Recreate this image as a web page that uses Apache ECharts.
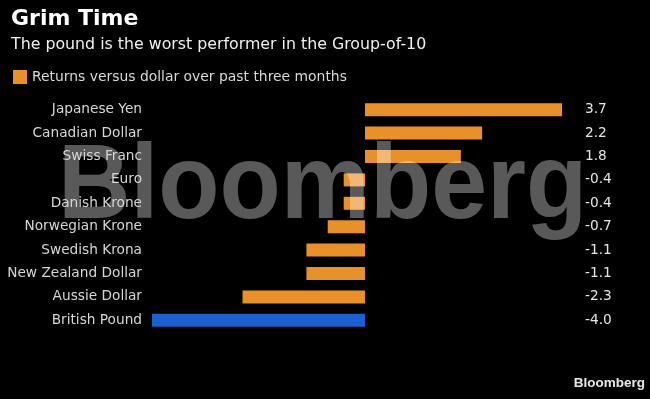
<!DOCTYPE html>
<html><head><meta charset="utf-8">
<script src="https://cdn.jsdelivr.net/npm/echarts@6/dist/echarts.min.js"></script>
<style>html,body{margin:0;padding:0;background:#000;}#c{width:650px;height:399px;}</style>
</head><body><div id="c"></div>
<script>
const categories = ["Japanese Yen","Canadian Dollar","Swiss Franc","Euro","Danish Krone","Norwegian Krone","Swedish Krona","New Zealand Dollar","Aussie Dollar","British Pound"];
const returns = [3.7, 2.2, 1.8, -0.4, -0.4, -0.7, -1.1, -1.1, -2.3, -4.0];
const highlight = "British Pound";
const seriesName = "Returns versus dollar over past three months";

const orange = "#e8912b", blue = "#1b5fd1";
const font = "DejaVu Sans";
const chart = echarts.init(document.getElementById('c'));
chart.setOption({
  backgroundColor: "#000",
  animation: false,
  title: [
    {text: "Grim Time", left: 6, top: 3, textStyle: {color: "#fff", fontFamily: font, fontWeight: "bold", fontSize: 22}},
    {text: "The pound is the worst performer in the Group-of-10", left: 6, top: 32, textStyle: {color: "#f0f0f0", fontFamily: font, fontWeight: "normal", fontSize: 15.8}}
  ],
  legend: {
    left: 8, top: 65, itemWidth: 14, itemHeight: 14, itemGap: 10,
    icon: "rect",
    textStyle: {color: "#d8d8d8", fontFamily: font, fontSize: 13.9, padding: [0,0,0,0]},
    data: [{name: seriesName, itemStyle: {color: orange}}]
  },
  grid: {left: 152, right: 88, top: 98, height: 234, containLabel: false},
  xAxis: {type: "value", min: -4, max: 3.7, show: false, splitLine: {show: false}},
  yAxis: [
    {type: "category", data: categories, inverse: true, position: "left", z: 10,
     axisLine: {show: false}, axisTick: {show: false},
     axisLabel: {color: "#d6d6d6", fontFamily: font, fontSize: 13.7, margin: 10}},
    {type: "category", data: categories, inverse: true, position: "right", z: 10,
     axisLine: {show: false}, axisTick: {show: false},
     axisLabel: {color: "#e6e6e6", fontFamily: font, fontSize: 13.7, margin: 23, align: "left",
       formatter: (v, i) => returns[i].toFixed(1)}}
  ],
  series: [{
    name: seriesName, type: "bar", barWidth: 13, z: 2,
    itemStyle: {color: orange},
    data: returns.map((v, i) => ({value: v, itemStyle: {color: categories[i] === highlight ? blue : orange}}))
  }],
  graphic: [
    {type: "text", left: 58, top: 137, z: 5, scaleX: 0.955,
     style: {text: "Bloomberg", font: "bold 105px Liberation Sans, Arial, sans-serif", fill: "rgba(255,255,255,0.35)"}},
    {type: "text", right: 5, top: 376, z: 100,
     style: {text: "Bloomberg", font: "bold 13.5px Liberation Sans, Arial, sans-serif", fill: "#e8e8e8"}}
  ]
});
</script></body></html>
